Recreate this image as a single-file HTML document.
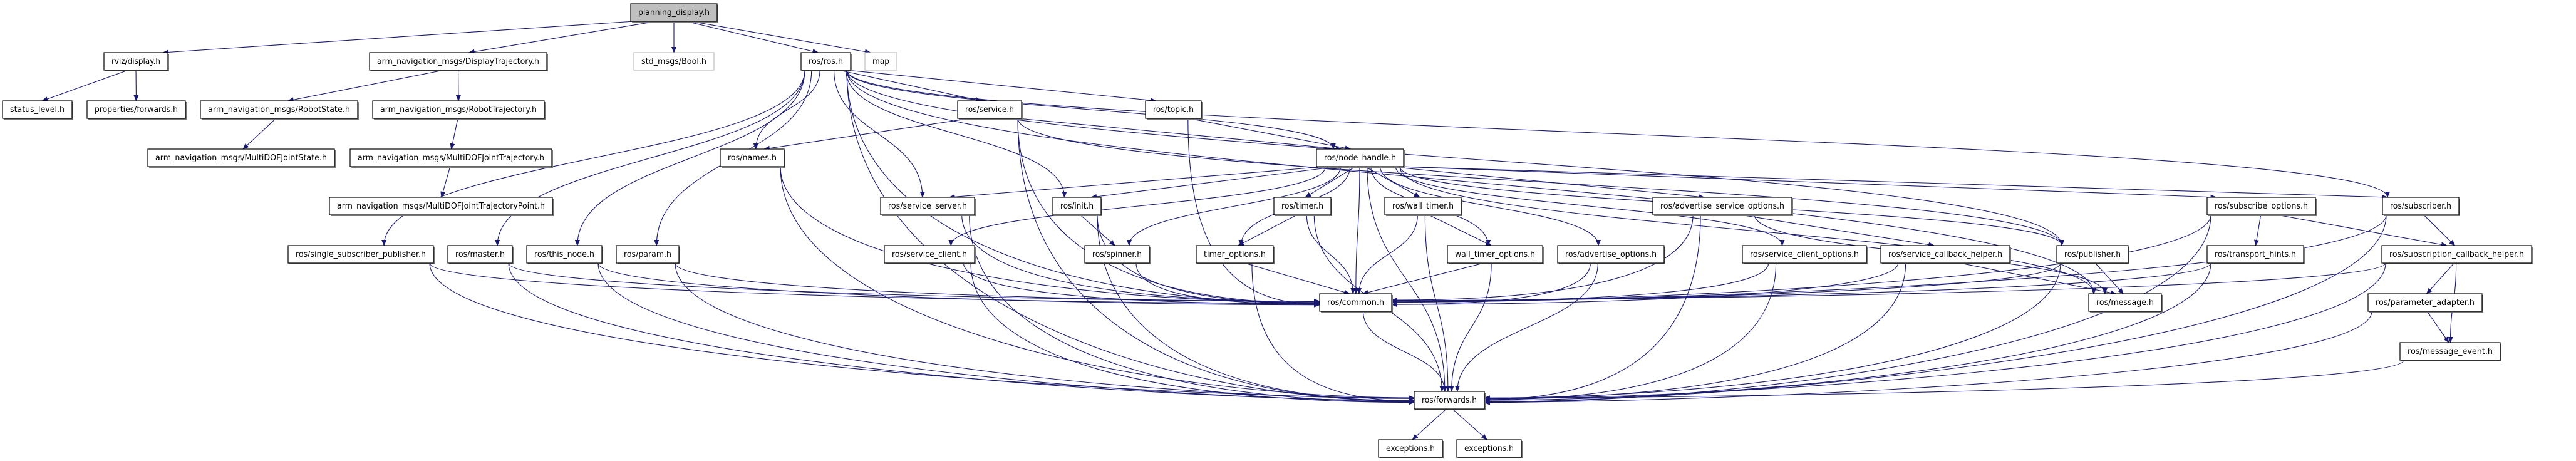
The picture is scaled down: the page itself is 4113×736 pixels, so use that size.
<!DOCTYPE html>
<html><head><meta charset="utf-8">
<style>
html,body{margin:0;padding:0;background:#fff;width:4113px;height:736px;overflow:hidden}
svg text{font-family:"DejaVu Sans","Liberation Sans",sans-serif;font-size:13px;fill:#000}
</style></head>
<body>
<svg id="g" xmlns="http://www.w3.org/2000/svg" width="4113" height="736" viewBox="0 0 4113 736">
<defs>
<marker id="a" markerWidth="10" markerHeight="8" refX="9" refY="4" orient="auto" markerUnits="userSpaceOnUse">
<path d="M0,0 L10,4 L0,8 z" fill="#191970"/></marker>
</defs>
<g id="edges" fill="none" stroke="#191970" stroke-width="1.1"></g>
<g id="nodes"></g>
</svg>
<script>
var R=[6,84,161,238,315,392,469,547,625,702];
var N={
pd:[1007,1145,0,"planning_display.h","gray"],
rviz:[166,268,1,"rviz/display.h"],
dt:[590,873,1,"arm_navigation_msgs/DisplayTrajectory.h"],
bool:[1012,1140,1,"std_msgs/Bool.h","light"],
ros:[1279,1358,1,"ros/ros.h"],
map:[1381,1432,1,"map","light"],
sl:[4,115,2,"status_level.h"],
pf:[139,296,2,"properties/forwards.h"],
rs:[320,571,2,"arm_navigation_msgs/RobotState.h"],
rt:[595,869,2,"arm_navigation_msgs/RobotTrajectory.h"],
svc:[1529,1631,2,"ros/service.h"],
topic:[1829,1918,2,"ros/topic.h"],
mjs:[236,534,3,"arm_navigation_msgs/MultiDOFJointState.h"],
mjt:[559,881,3,"arm_navigation_msgs/MultiDOFJointTrajectory.h"],
names:[1150,1252,3,"ros/names.h"],
nh:[2102,2241,3,"ros/node_handle.h"],
mjp:[526,882,4,"arm_navigation_msgs/MultiDOFJointTrajectoryPoint.h"],
ss:[1406,1556,4,"ros/service_server.h"],
init:[1681,1758,4,"ros/init.h"],
timer:[2034,2125,4,"ros/timer.h"],
wt:[2211,2333,4,"ros/wall_timer.h"],
aso:[2639,2861,4,"ros/advertise_service_options.h"],
so:[3524,3697,4,"ros/subscribe_options.h"],
sub:[3804,3926,4,"ros/subscriber.h"],
ssp:[460,692,5,"ros/single_subscriber_publisher.h"],
master:[715,818,5,"ros/master.h"],
tn:[841,961,5,"ros/this_node.h"],
param:[984,1084,5,"ros/param.h"],
sc:[1412,1556,5,"ros/service_client.h"],
spin:[1732,1835,5,"ros/spinner.h"],
to:[1910,2033,5,"timer_options.h"],
wto:[2311,2463,5,"wall_timer_options.h"],
ao:[2487,2657,5,"ros/advertise_options.h"],
sco:[2782,2980,5,"ros/service_client_options.h"],
sch:[3003,3209,5,"ros/service_callback_helper.h"],
pub:[3284,3398,5,"ros/publisher.h"],
th:[3524,3678,5,"ros/transport_hints.h"],
sbch:[3803,4042,5,"ros/subscription_callback_helper.h"],
common:[2107,2222,6,"ros/common.h"],
msg:[3335,3451,6,"ros/message.h"],
pa:[3781,3963,6,"ros/parameter_adapter.h"],
me:[3832,3992,7,"ros/message_event.h"],
fw:[2258,2370,8,"ros/forwards.h"],
ex1:[2201,2303,9,"exceptions.h"],
ex2:[2326,2429,9,"exceptions.h"]
};
var E=[
["pd","rviz"],["pd","dt"],["pd","bool"],["pd","ros"],["pd","map"],
["rviz","sl"],["rviz","pf"],["dt","rs"],["dt","rt"],["rs","mjs"],["rt","mjt"],["mjt","mjp"],
["ros","ssp"],["ros","master"],["ros","tn"],["ros","param"],["ros","names"],["ros","ss"],["ros","svc"],["ros","topic"],["ros","init"],["ros","nh"],["ros","sub"],["ros","pub"],["ros","common"],["ros","fw"],["ros","msg"],
["svc","names"],["svc","nh"],["svc","common"],["svc","fw"],["svc","pub"],
["topic","nh"],["topic","common"],
["names","common"],["names","fw"],
["nh","ss"],["nh","init"],["nh","sc"],["nh","spin"],["nh","timer"],["nh","to"],["nh","common"],["nh","wt"],["nh","wto"],["nh","ao"],["nh","aso"],["nh","pub"],["nh","so"],["nh","sub"],["nh","fw"],["nh","msg"],["nh","sco"],
["ssp","common"],["ssp","fw"],["master","common"],["master","fw"],["tn","common"],["tn","fw"],["param","common"],["param","fw"],
["ss","common"],["ss","fw"],["init","spin"],["init","common"],["init","fw"],["sc","common"],["sc","fw"],["spin","common"],
["timer","to"],["timer","common"],["timer","fw"],["to","common"],["to","fw"],
["wt","wto"],["wt","common"],["wt","fw"],["wto","common"],["wto","fw"],
["ao","common"],["ao","fw"],["aso","sch"],["aso","common"],["aso","fw"],["aso","msg"],
["sco","common"],["sco","fw"],["sch","msg"],["sch","common"],["sch","fw"],
["pub","msg"],["pub","common"],["pub","fw"],
["so","th"],["so","sbch"],["so","common"],["so","fw"],
["sub","sbch"],["sub","common"],["sub","fw"],["th","common"],["th","fw"],
["sbch","pa"],["sbch","me"],["sbch","common"],["sbch","fw"],
["pa","me"],["pa","fw"],["me","fw"],
["common","fw"],["fw","ex1"],["fw","ex2"]
];
var NS="http://www.w3.org/2000/svg";
function el(t,a,p){var e=document.createElementNS(NS,t);for(var k in a)e.setAttribute(k,a[k]);p.appendChild(e);return e;}
var eg=document.getElementById("edges"),ng=document.getElementById("nodes");
function box(k){var n=N[k];return{x1:n[0],x2:n[1],y1:R[n[2]],y2:R[n[2]]+28,cx:(n[0]+n[1])/2,r:n[2]};}
E.forEach(function(e){
 var s=box(e[0]),t=box(e[1]);
 var sx=s.cx+(t.cx-s.cx)*0.0, sy=s.y2;
 var d;
 var dx=t.cx-s.cx;
 // start offset toward target
 sx=s.cx+Math.max(-(s.x2-s.x1)/2+6,Math.min((s.x2-s.x1)/2-6,dx*0.08));
 if(t.r==s.r){ // same row (shouldn't happen)
  d="M"+sx+","+sy+" L"+t.cx+","+t.y1;
 } else if((e[1]=="common"||e[1]=="fw")&&Math.abs(dx)>260){
  var ty=t.y1+14+(Math.random()*8-4), tx=dx>0?t.x1:t.x2;
  var ex=tx+(dx>0?-1:1)*Math.min(Math.abs(dx)*0.5,400);
  d="M"+sx+","+sy+" C"+sx+","+(sy+(ty-sy)*0.7)+" "+ex+","+ty+" "+tx+","+ty;
 } else if(t.r<s.r){
  d="M"+sx+","+s.y1+" L"+t.cx+","+t.y2;
 } else {
  var tx2=t.cx-Math.max(-(t.x2-t.x1)/2+8,Math.min((t.x2-t.x1)/2-8,dx*0.05));
  var ty2=t.y1;
  if(t.r-s.r==1){
   d="M"+sx+","+sy+" L"+tx2+","+ty2;
  } else {
   d="M"+sx+","+sy+" C"+sx+","+(sy+(ty2-sy)*0.5)+" "+tx2+","+(ty2-(ty2-sy)*0.5)+" "+tx2+","+ty2;
  }
 }
 el("path",{d:d,"marker-end":"url(#a)"},eg);
});
for(var k in N){
 var n=N[k],b=box(k),w=b.x2-b.x1;
 var fill=n[4]=="gray"?"#bfbfbf":"#fff", st=n[4]=="light"?"#bfbfbf":"#000";
 if(n[4]!="light") el("rect",{x:b.x1+2,y:b.y1+2,width:w,height:28,fill:"#777"},ng);
 el("rect",{x:b.x1,y:b.y1,width:w,height:28,fill:fill,stroke:st,"stroke-width":1.2},ng);
 var t=el("text",{x:b.cx,y:b.y1+18,"text-anchor":"middle",textLength:Math.max(10,w-24),lengthAdjust:"spacingAndGlyphs"},ng);
 t.textContent=n[3];
}
</script>
</body></html>
